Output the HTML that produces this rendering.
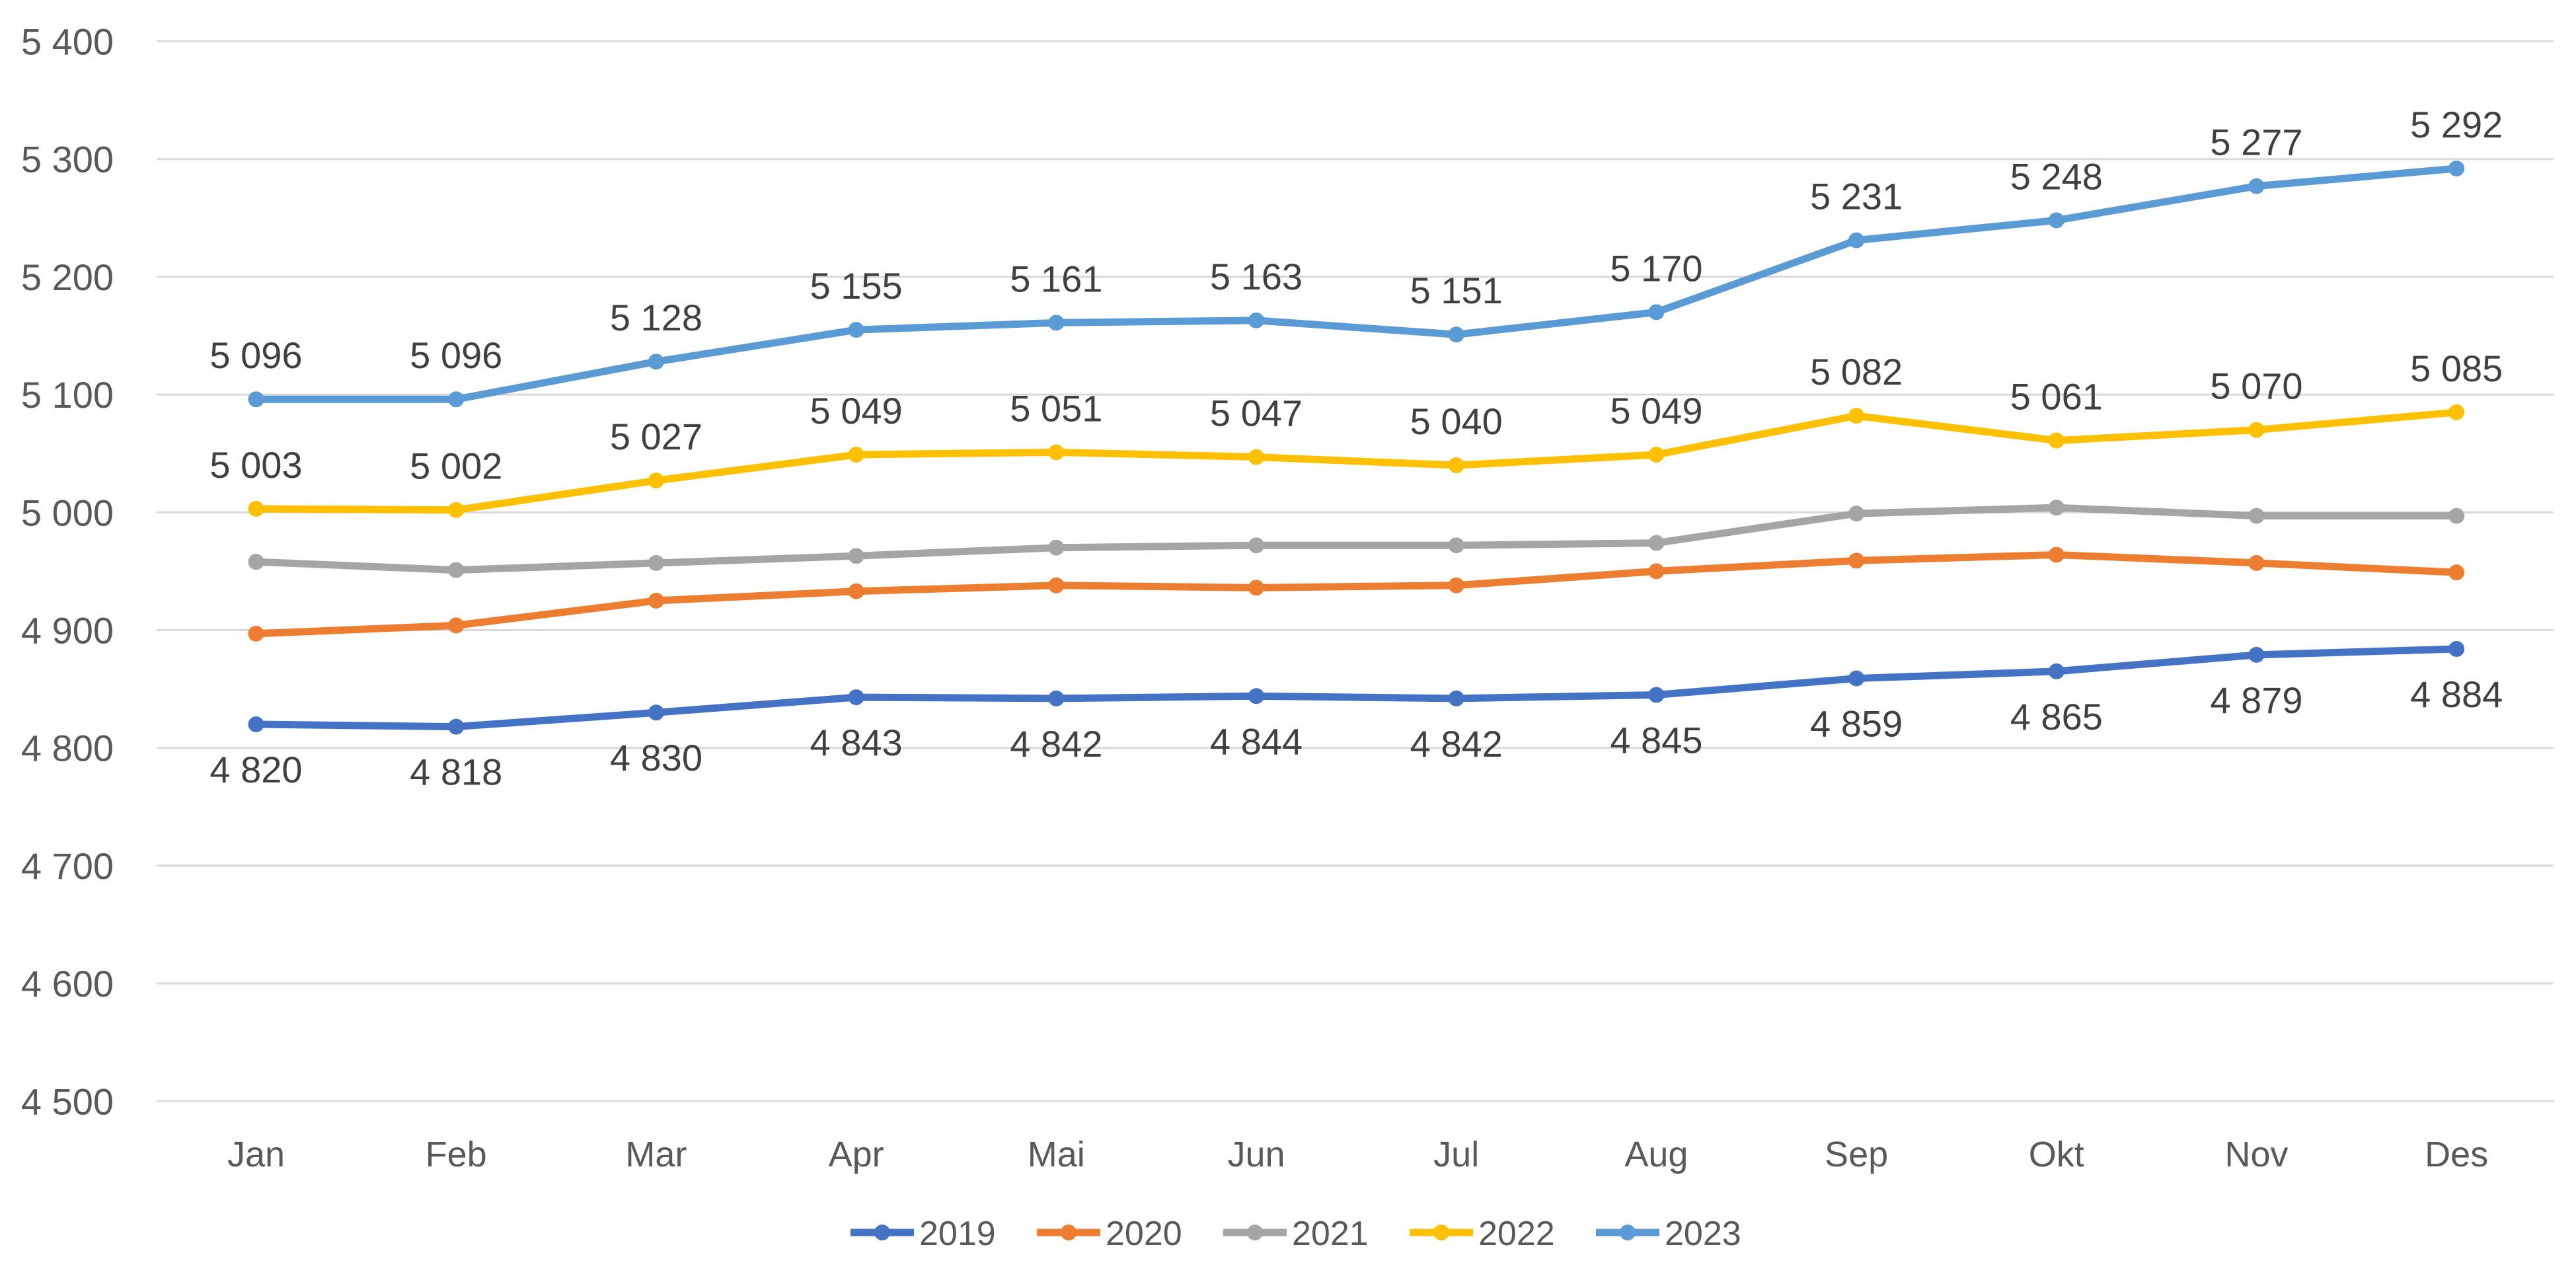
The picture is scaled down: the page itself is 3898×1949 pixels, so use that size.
<!DOCTYPE html>
<html><head><meta charset="utf-8"><style>
html,body{margin:0;padding:0;background:#fff;}
svg{display:block;}
text{font-family:"Liberation Sans",sans-serif;}
</style></head><body>
<svg id="c" width="3898" height="1949" xmlns="http://www.w3.org/2000/svg"></svg>
<script>
const s=document.getElementById('c');
let h='';
const Y=v=>62.5+(5400-v)*1.782, X=i=>387.5+302.7*i;
for(let v=4500;v<=5400;v+=100){const y=Y(v);
h+=`<line x1="237" x2="3864" y1="${y}" y2="${y}" stroke="#d9d9d9" stroke-width="3"/>`;
h+=`<text x="172" y="${y+20}" text-anchor="end" font-size="56" fill="#595959">${String(v).replace(/^(\d)/,'$1 ')}</text>`;}
const m=['Jan','Feb','Mar','Apr','Mai','Jun','Jul','Aug','Sep','Okt','Nov','Des'];
m.forEach((t,i)=>h+=`<text x="${X(i)}" y="1765" text-anchor="middle" font-size="54" fill="#595959">${t}</text>`);
const S=[
['2019','#4472C4',[4820,4818,4830,4843,4842,4844,4842,4845,4859,4865,4879,4884],1],
['2020','#ED7D31',[4897,4904,4925,4933,4938,4936,4938,4950,4959,4964,4957,4949],0],
['2021','#A5A5A5',[4958,4951,4957,4963,4970,4972,4972,4974,4999,5004,4997,4997],0],
['2022','#FFC000',[5003,5002,5027,5049,5051,5047,5040,5049,5082,5061,5070,5085],-1],
['2023','#5B9BD5',[5096,5096,5128,5155,5161,5163,5151,5170,5231,5248,5277,5292],-1]];
const f=v=>String(v).replace(/^(\d)/,'$1 ');
S.forEach(([n,c,d,l],k)=>{
h+=`<polyline fill="none" stroke="${c}" stroke-width="11" stroke-linejoin="round" points="${d.map((v,i)=>X(i)+','+Y(v)).join(' ')}"/>`;
d.forEach((v,i)=>{h+=`<circle cx="${X(i)}" cy="${Y(v)}" r="12" fill="${c}"/>`;
if(l<0)h+=`<text x="${X(i)}" y="${Y(v)-47}" text-anchor="middle" font-size="56" fill="#404040">${f(v)}</text>`;
if(l>0)h+=`<text x="${X(i)}" y="${Y(v)+88}" text-anchor="middle" font-size="56" fill="#404040">${f(v)}</text>`;});
const lx=1287+282*k;
h+=`<line x1="${lx}" x2="${lx+96}" y1="1865" y2="1865" stroke="${c}" stroke-width="11"/><circle cx="${lx+48}" cy="1865" r="12" fill="${c}"/>`;
h+=`<text x="${lx+104}" y="1884" font-size="52" fill="#595959">${n}</text>`;
});
s.innerHTML=h;
</script>
</body></html>
